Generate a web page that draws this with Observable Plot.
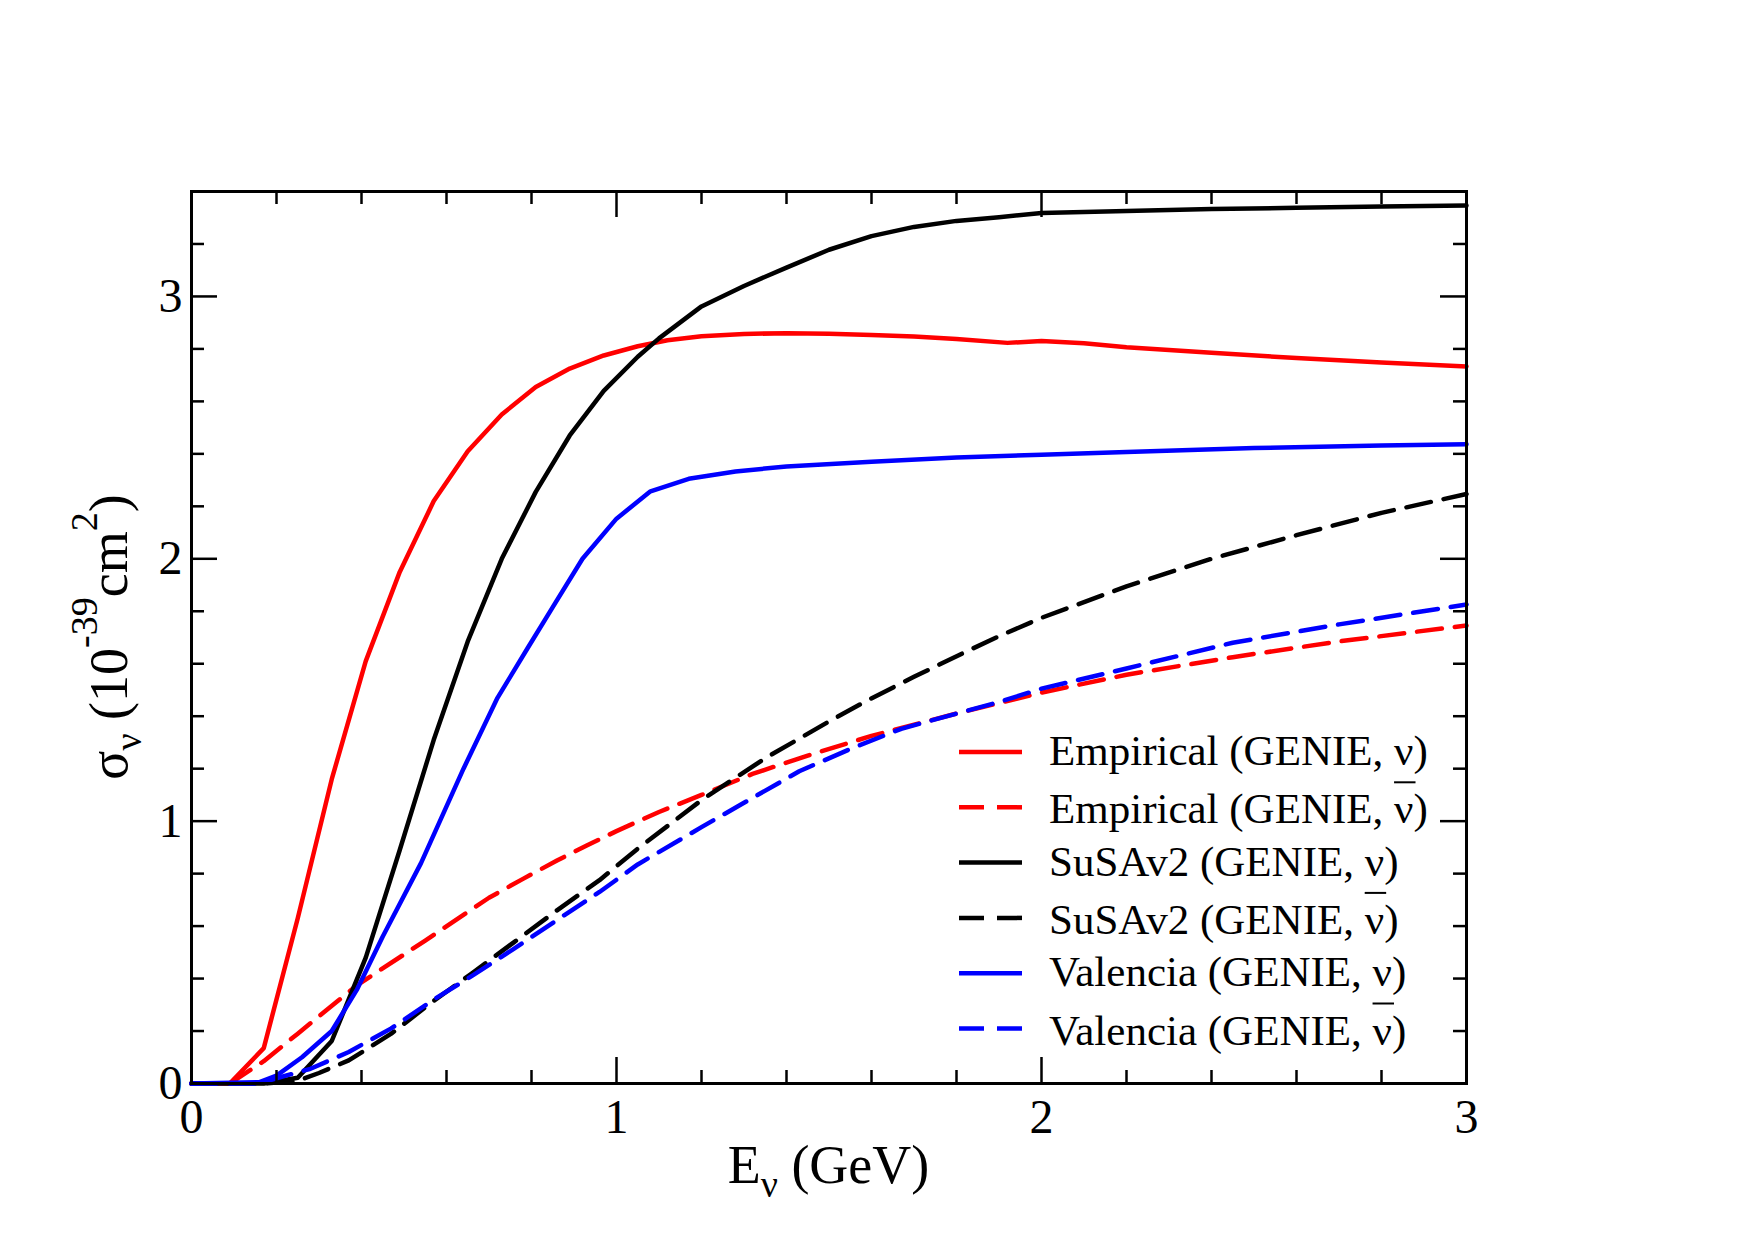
<!DOCTYPE html>
<html>
<head>
<meta charset="utf-8">
<script src="https://cdn.jsdelivr.net/npm/d3@7"></script>
<script src="https://cdn.jsdelivr.net/npm/@observablehq/plot@0.6"></script>
<style>
  html, body { margin: 0; padding: 0; background: #fff; }
  #chart { width: 1755px; height: 1240px; }
  svg text { font-family: "Liberation Serif", "Times New Roman", serif; }
</style>
</head>
<body>
<div id="chart"></div>
<script>
// Neutrino energy E (GeV) and total cross section sigma (10^-39 cm^2)

// Empirical model, neutrino
const empiricalNuE     = [0, 0.09, 0.17, 0.25, 0.33, 0.41, 0.49, 0.57, 0.65, 0.73, 0.81, 0.89, 0.97, 1.05, 1.12, 1.2, 1.3, 1.4, 1.5, 1.6, 1.7, 1.8, 1.92, 2.0, 2.1, 2.2, 2.4, 2.6, 2.8, 3.0];
const empiricalNuSigma = [0, 0, 0.135, 0.63, 1.16, 1.61, 1.95, 2.22, 2.41, 2.55, 2.655, 2.725, 2.775, 2.81, 2.833, 2.848, 2.857, 2.86, 2.858, 2.853, 2.847, 2.838, 2.823, 2.83, 2.822, 2.806, 2.785, 2.765, 2.748, 2.733];

// Empirical model, antineutrino
const empiricalNubarE     = [0, 0.09, 0.17, 0.25, 0.39, 0.55, 0.7, 0.78, 0.86, 0.93, 1.0, 1.1, 1.2, 1.32, 1.45, 1.6, 1.8, 2.0, 2.2, 2.45, 2.7, 3.0];
const empiricalNubarSigma = [0, 0, 0.085, 0.19, 0.375, 0.545, 0.708, 0.78, 0.85, 0.907, 0.962, 1.035, 1.1, 1.18, 1.25, 1.325, 1.41, 1.49, 1.558, 1.625, 1.685, 1.746];

// SuSAv2 model, neutrino
const susaNuE     = [0, 0.17, 0.25, 0.33, 0.41, 0.49, 0.57, 0.65, 0.73, 0.81, 0.89, 0.97, 1.05, 1.1, 1.2, 1.3, 1.4, 1.5, 1.6, 1.7, 1.8, 1.9, 2.0, 2.2, 2.4, 2.6, 2.8, 3.0];
const susaNuSigma = [0, 0, 0.022, 0.162, 0.48, 0.89, 1.31, 1.685, 2.0, 2.255, 2.47, 2.64, 2.77, 2.84, 2.962, 3.04, 3.11, 3.178, 3.23, 3.265, 3.288, 3.302, 3.318, 3.326, 3.333, 3.338, 3.343, 3.347];

// SuSAv2 model, antineutrino
const susaNubarE     = [0, 0.17, 0.25, 0.3, 0.37, 0.47, 0.57, 0.66, 0.76, 0.86, 0.96, 1.05, 1.2, 1.35, 1.5, 1.59, 1.7, 1.82, 1.9, 2.0, 2.2, 2.4, 2.6, 2.8, 3.0];
const susaNubarSigma = [0, 0, 0.01, 0.04, 0.088, 0.19, 0.315, 0.42, 0.54, 0.66, 0.775, 0.895, 1.08, 1.24, 1.38, 1.46, 1.55, 1.644, 1.705, 1.775, 1.895, 2.0, 2.09, 2.175, 2.247];

// Valencia model, neutrino
const valenciaNuE     = [0, 0.16, 0.2, 0.26, 0.33, 0.39, 0.45, 0.54, 0.64, 0.72, 0.79, 0.85, 0.92, 1.0, 1.08, 1.17, 1.28, 1.4, 1.6, 1.8, 2.0, 2.2, 2.5, 2.8, 3.0];
const valenciaNuSigma = [0, 0.005, 0.03, 0.10, 0.2, 0.36, 0.56, 0.84, 1.2, 1.47, 1.657, 1.816, 2.0, 2.153, 2.257, 2.305, 2.333, 2.352, 2.37, 2.386, 2.397, 2.407, 2.422, 2.432, 2.437];

// Valencia model, antineutrino
const valenciaNubarE     = [0, 0.16, 0.2, 0.28, 0.37, 0.47, 0.57, 0.66, 0.76, 0.86, 0.96, 1.05, 1.2, 1.3, 1.43, 1.55, 1.67, 1.8, 1.9, 2.0, 2.2, 2.45, 2.7, 3.0];
const valenciaNubarSigma = [0, 0, 0.02, 0.056, 0.12, 0.21, 0.32, 0.41, 0.515, 0.623, 0.73, 0.835, 0.977, 1.07, 1.19, 1.275, 1.352, 1.41, 1.454, 1.505, 1.582, 1.68, 1.75, 1.826];

// Axis ticks
const xMajorTicks = [0, 1, 2, 3];
const yMajorTicks = [0, 1, 2, 3];
const xMinorTicks = [0.2, 0.4, 0.6, 0.8, 1.2, 1.4, 1.6, 1.8, 2.2, 2.4, 2.6, 2.8];
const yMinorTicks = [0.2, 0.4, 0.6, 0.8, 1.2, 1.4, 1.6, 1.8, 2.2, 2.4, 2.6, 2.8, 3.2];

// Legend order: model name and whether the entry is the antineutrino curve
const legendModels = ["Empirical", "Empirical", "SuSAv2", "SuSAv2", "Valencia", "Valencia"];
const legendIsBar  = [false, true, false, true, false, true];

// ---- drawing ----
const modelColor = { Empirical: "#ff0000", SuSAv2: "#000000", Valencia: "#0000ff" };
const dashPattern = "25,13";
const curveWidth = 4.5;

const curves = [
  { model: "Empirical", bar: false, E: empiricalNuE,     s: empiricalNuSigma },
  { model: "Empirical", bar: true,  E: empiricalNubarE,  s: empiricalNubarSigma },
  { model: "SuSAv2",    bar: false, E: susaNuE,          s: susaNuSigma },
  { model: "SuSAv2",    bar: true,  E: susaNubarE,       s: susaNubarSigma },
  { model: "Valencia",  bar: false, E: valenciaNuE,      s: valenciaNuSigma },
  { model: "Valencia",  bar: true,  E: valenciaNubarE,   s: valenciaNubarSigma }
];

const W = 1755, H = 1240;
const M = { top: 191, right: 289, bottom: 157, left: 191 };
const frameW = W - M.left - M.right;
const frameH = H - M.top - M.bottom;
const majorLen = 26, minorLen = 13, tickW = 2.5;

const tickMarks = [
  // bottom and top edges, pointing inward
  Plot.tickX(xMinorTicks, { x: d => d, insetTop: frameH - minorLen, strokeWidth: tickW }),
  Plot.tickX(xMinorTicks, { x: d => d, insetBottom: frameH - minorLen, strokeWidth: tickW }),
  Plot.tickX(xMajorTicks, { x: d => d, insetTop: frameH - majorLen, strokeWidth: tickW }),
  Plot.tickX(xMajorTicks, { x: d => d, insetBottom: frameH - majorLen, strokeWidth: tickW }),
  // left and right edges, pointing inward
  Plot.tickY(yMinorTicks, { y: d => d, insetRight: frameW - minorLen, strokeWidth: tickW }),
  Plot.tickY(yMinorTicks, { y: d => d, insetLeft: frameW - minorLen, strokeWidth: tickW }),
  Plot.tickY(yMajorTicks, { y: d => d, insetRight: frameW - majorLen, strokeWidth: tickW }),
  Plot.tickY(yMajorTicks, { y: d => d, insetLeft: frameW - majorLen, strokeWidth: tickW })
];

const lineMarks = curves.map(c => {
  const rows = c.E.map((e, i) => ({ E: e, sigma: c.s[i] }));
  return Plot.line(rows, {
    x: "E", y: "sigma",
    stroke: modelColor[c.model],
    strokeWidth: curveWidth,
    strokeDasharray: c.bar ? dashPattern : null,
    strokeLinejoin: "round"
  });
});

const plot = Plot.plot({
  width: W, height: H,
  marginTop: M.top, marginRight: M.right, marginBottom: M.bottom, marginLeft: M.left,
  style: { background: "#fff", color: "#000", fontFamily: "Liberation Serif, serif" },
  x: { domain: [0, 3] },
  y: { domain: [0, 3.4] },
  marks: [
    ...lineMarks,
    ...tickMarks,
    Plot.axisX(xMajorTicks, { anchor: "bottom", tickSize: 0, tickPadding: 15, fontSize: 48, label: null, tickFormat: d => String(d) }),
    Plot.axisY(yMajorTicks, { anchor: "left", tickSize: 0, tickPadding: 9, fontSize: 48, label: null, tickFormat: d => String(d) }),
    Plot.frame({ strokeWidth: 3 })
  ]
});

document.getElementById("chart").appendChild(plot);

// Axis titles with Greek sub/superscripts
const svg = d3.select(plot);
const xs = plot.scale("x"), ys = plot.scale("y");
const xMid = (xs.apply(0) + xs.apply(3)) / 2;
const yMid = (ys.apply(0) + ys.apply(3.4)) / 2;

const xt = svg.append("text")
  .attr("x", xMid).attr("y", 1183)
  .attr("text-anchor", "middle")
  .attr("font-size", 54).attr("fill", "#000");
xt.append("tspan").text("E");
xt.append("tspan").attr("font-size", 38).attr("dy", 14).text("ν");
xt.append("tspan").attr("dy", -14).text(" (GeV)");

const yt = svg.append("text")
  .attr("transform", `translate(127,${yMid}) rotate(-90)`)
  .attr("text-anchor", "middle")
  .attr("font-size", 54).attr("fill", "#000");
yt.append("tspan").text("σ");
yt.append("tspan").attr("font-size", 38).attr("dy", 14).text("ν");
yt.append("tspan").attr("dy", -14).text(" (10");
yt.append("tspan").attr("font-size", 38).attr("dy", -30).text("-39");
yt.append("tspan").attr("dy", 30).text("cm");
yt.append("tspan").attr("font-size", 38).attr("dy", -30).text("2");
yt.append("tspan").attr("dy", 30).text(")");

// Legend
const legFont = 43;
const leg = svg.append("g")
  .attr("font-size", legFont).attr("fill", "#000").attr("text-anchor", "start");
const legX0 = 959, legX1 = 1022, legTextX = 1049, legY0 = 752, legStep = 55.3;
legendModels.forEach((m, i) => {
  const y = legY0 + i * legStep;
  const bar = legendIsBar[i];
  leg.append("line")
    .attr("x1", legX0).attr("x2", legX1).attr("y1", y).attr("y2", y)
    .attr("stroke", modelColor[m]).attr("stroke-width", curveWidth)
    .attr("stroke-dasharray", bar ? dashPattern : null);
  const base = y + (bar ? 16 : 13);
  const prefix = `${m} (GENIE, `;
  const t = leg.append("text").attr("x", legTextX).attr("y", base)
    .text(`${prefix}ν)`);
  if (bar) {
    // overline above the nu glyph
    const ext = t.node().getExtentOfChar(prefix.length);
    leg.append("line")
      .attr("x1", ext.x).attr("x2", ext.x + ext.width + 2)
      .attr("y1", base - 41).attr("y2", base - 41)
      .attr("stroke", "#000").attr("stroke-width", 2);
  }
});
</script>
</body>
</html>
